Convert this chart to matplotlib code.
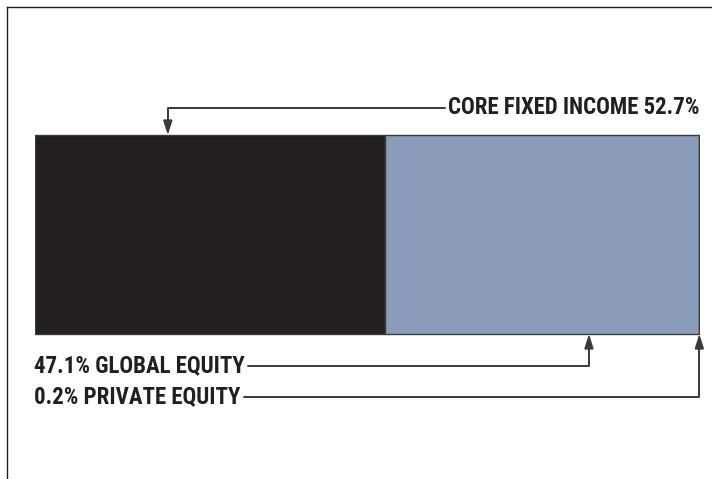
import matplotlib
matplotlib.use("Agg")
import matplotlib.pyplot as plt
from matplotlib.lines import Line2D

categories = ["CORE FIXED INCOME", "GLOBAL EQUITY", "PRIVATE EQUITY"]
values = [52.7, 47.1, 0.2]
colors = ["#231f20", "#8a9cb9", "#c9c9c9"]

fam = ["Roboto Condensed", "DejaVu Sans"]

W, H = 712, 479
fig = plt.figure(figsize=(W / 100, H / 100), dpi=100)
bar_left, bar_right = 34.5, 700.0
ax = fig.add_axes([bar_left / W, 0, (bar_right - bar_left) / W, 1])
ax.set_axis_off()
total = sum(values)
ax.set_xlim(0, total)
bar_top_px, bar_bot_px = 135.0, 334.0
bh = bar_bot_px - bar_top_px
ymin = -0.5 - (H - bar_bot_px) / bh
ymax = 0.5 + bar_top_px / bh
ax.set_ylim(ymin, ymax)

def py(p):
    return ymax - p / bh

left = 0
lefts = []
for v, c in zip(values, colors):
    ax.barh(0, v, left=left, height=1.0, color=c, edgecolor="#3a3a3a", linewidth=1.0)
    lefts.append(left)
    left += v

fs = 16.5
tkw = dict(fontsize=fs, fontweight="bold", family=fam, color="#231f20")
akw = dict(arrowstyle="-|>,head_length=0.5,head_width=0.16", color="#3a3a3a", lw=1.4,
           shrinkA=0, shrinkB=0, connectionstyle="angle,angleA=0,angleB=90,rad=0")

x0 = lefts[0] + values[0] * 0.38
ax.annotate(f"{categories[0]} {values[0]}%", xy=(x0, 0.5), xytext=(total - 0.05, py(108)),
            ha="right", va="center", arrowprops=akw, **tkw)
x1 = lefts[1] + values[1] * 0.65
ax.annotate(f"{values[1]}% {categories[1]}", xy=(x1, -0.5), xytext=(0, py(366)),
            ha="left", va="center", arrowprops=akw, **tkw)
x2 = lefts[2] + values[2] * 0.5
ax.annotate(f"{values[2]}% {categories[2]}", xy=(x2, -0.5), xytext=(0, py(397)),
            ha="left", va="center", arrowprops=akw, **tkw)

fig.add_artist(Line2D([7 / W, 7 / W], [0, 1 - 7 / H], color="#231f20", lw=1.0))
fig.add_artist(Line2D([7 / W, 1], [1 - 7 / H, 1 - 7 / H], color="#231f20", lw=1.0))

fig.savefig("out.png", dpi=100)
